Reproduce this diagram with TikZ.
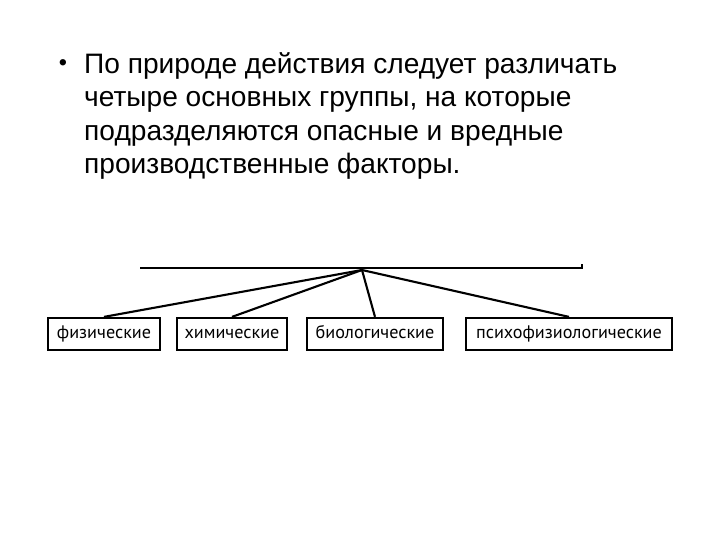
\documentclass[tikz,border=0pt]{standalone}
\usepackage{fontspec}
\setmainfont{Liberation Sans}
\newfontfamily\boxfont{PT Sans}
\tikzset{
  factor/.style={draw, line width=1.9pt, inner sep=0pt, minimum height=0.96cm,
    text height=2.2ex, text depth=0.6ex,
    font=\boxfont\fontsize{15.5}{15.5}\selectfont},
  link/.style={line width=1.8pt}
}
\begin{document}
\begin{tikzpicture}[x=0.03cm, y=-0.03cm]
\useasboundingbox (0,0) rectangle (720,540);

% text
\node[anchor=base] (dot) at (63,71) {\fontsize{20}{20}\selectfont •};
\node[anchor=north west, inner sep=0pt, align=left,
  font=\fontsize{24}{28.6}\selectfont] (txt) at (84,52)
  {По природе действия следует различать\\
   четыре основных группы, на которые\\
   подразделяются опасные и вредные\\
   производственные факторы.};

% top bar
\draw[line width=2.4pt] (140,268) -- (582,268) -- (582,264);
\coordinate (top) at (362,270);

% groups
\node[factor, minimum width=3.36cm] (phys) at (104,334) {физические};
\node[factor, minimum width=3.3cm] (chem) at (232,334) {химические};
\node[factor, minimum width=4.08cm] (bio) at (375,334) {биологические};
\node[factor, minimum width=6.18cm] (psy) at (569,334) {психофизиологические};

\draw[link] (top) -- (phys.north);
\draw[link] (top) -- (chem.north);
\draw[link] (top) -- (bio.north);
\draw[link] (top) -- (psy.north);
\end{tikzpicture}
\end{document}
